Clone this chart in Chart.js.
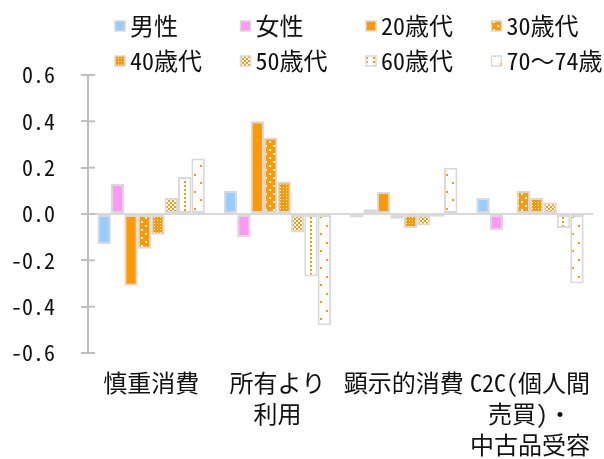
<!DOCTYPE html>
<html>
<head>
<meta charset="utf-8">
<script src="https://cdn.jsdelivr.net/npm/chart.js@4.4.1/dist/chart.umd.min.js"></script>
<style>
  html, body { margin: 0; padding: 0; background: #fff; }
  #wrap { width: 604px; height: 459px; }
</style>
</head>
<body>
<div id="wrap"><canvas id="chart" width="604" height="459"></canvas></div>
<script>
// categories (multi-line ones as arrays)
const categories = ['慎重消費', ['所有より', '利用'], '顕示的消費', ['C2C(個人間', '売買)・', '中古品受容']];
const seriesNames = ['男性', '女性', '20歳代', '30歳代', '40歳代', '50歳代', '60歳代', '70〜74歳'];

// values
const male   = [-0.13, 0.10, -0.015, 0.07];
const female = [0.13, -0.10, 0.02, -0.07];
const age20  = [-0.31, 0.40, 0.095, 0.00];
const age30  = [-0.15, 0.33, -0.02, 0.10];
const age40  = [-0.09, 0.14, -0.06, 0.07];
const age50  = [0.07, -0.08, -0.05, 0.05];
const age60  = [0.16, -0.27, -0.012, -0.06];
const age70  = [0.24, -0.48, 0.20, -0.30];

const yTicks = [-0.6, -0.4, -0.2, 0, 0.2, 0.4, 0.6];

const FONT = "'Noto Sans Mono CJK JP', 'Noto Sans CJK JP', 'Noto Sans', sans-serif";
const ORANGE = '#ff9900';
const EDGE = '#d9d9d9';

const canvas = document.getElementById('chart');
const ctx = canvas.getContext('2d');

function makePattern(w, h, bg, fg, dots) {
  const c = document.createElement('canvas');
  c.width = w; c.height = h;
  const g = c.getContext('2d');
  g.fillStyle = bg;
  g.fillRect(0, 0, w, h);
  g.fillStyle = fg;
  dots.forEach(d => g.fillRect(d[0], d[1], d[2], d[3]));
  return ctx.createPattern(c, 'repeat');
}

const fills = [
  '#99ccff',
  '#ff99f5',
  ORANGE,
  makePattern(8, 8, ORANGE, '#fff', [[1, 1, 2, 2], [5, 5, 2, 2]]),
  makePattern(3, 3, ORANGE, '#fff', [[1, 1, 1, 1]]),
  makePattern(4, 4, '#fff', ORANGE, [[0, 0, 2, 2], [2, 2, 2, 2]]),
  makePattern(7, 4, '#fff', ORANGE, [[2, 1, 2, 2]]),
  makePattern(12, 17, '#fff', ORANGE, [[2, 4, 2, 2], [8, 12, 2, 2]])
];

const values = [male, female, age20, age30, age40, age50, age60, age70];

const datasets = seriesNames.map((name, i) => ({
  label: name,
  data: values[i],
  backgroundColor: fills[i],
  borderColor: EDGE,
  borderWidth: 2,
  borderSkipped: false,
  categoryPercentage: 0.85,
  barPercentage: 1.0
}));

// legend laid out as a 4 x 2 grid
const gridLegend = {
  id: 'gridLegend',
  afterDraw(chart) {
    const c = chart.ctx;
    c.save();
    c.font = '24px ' + FONT;
    c.textBaseline = 'middle';
    c.textAlign = 'left';
    chart.data.datasets.forEach((ds, i) => {
      const col = i % 4, row = Math.floor(i / 4);
      const x = 115 + col * 125.5;
      const y = 26 + row * 35;
      c.fillStyle = ds.backgroundColor;
      c.fillRect(x, y - 5, 10, 10);
      c.strokeStyle = EDGE;
      c.lineWidth = 1.5;
      c.strokeRect(x, y - 5, 10, 10);
      c.fillStyle = '#111';
      c.fillText(ds.label, x + 15, y);
    });
    c.restore();
  }
};

// tick marks crossing the value axis
const crossTicks = {
  id: 'crossTicks',
  afterDraw(chart) {
    const c = chart.ctx, ys = chart.scales.y, left = chart.chartArea.left;
    c.save();
    c.strokeStyle = '#bfbfbf';
    c.lineWidth = 2;
    yTicks.forEach(v => {
      const y = ys.getPixelForValue(v);
      c.beginPath();
      c.moveTo(left, y);
      c.lineTo(left + 7, y);
      c.stroke();
    });
    c.restore();
  }
};

new Chart(canvas, {
  type: 'bar',
  data: { labels: categories, datasets: datasets },
  options: {
    responsive: false,
    animation: false,
    devicePixelRatio: 1,
    layout: { padding: { top: 75, left: 10, right: 0, bottom: 0 } },
    plugins: {
      legend: { display: false },
      tooltip: { enabled: false }
    },
    scales: {
      x: {
        grid: { display: false, drawTicks: false },
        border: { display: false },
        ticks: {
          font: { family: FONT, size: 24, lineHeight: 1.3 },
          color: '#111',
          padding: 14,
          maxRotation: 0,
          autoSkip: false
        },
        afterFit(scale) { scale.height = 106; }
      },
      y: {
        min: -0.6,
        max: 0.6,
        afterBuildTicks(scale) { scale.ticks = yTicks.map(v => ({ value: v })); },
        afterFit(scale) { scale.width = 78; },
        ticks: {
          font: { family: FONT, size: 22 },
          color: '#111',
          padding: 26,
          callback: v => v.toFixed(1)
        },
        grid: {
          color: c => (c.tick && c.tick.value === 0) ? EDGE : 'rgba(0,0,0,0)',
          lineWidth: 2,
          tickColor: '#bfbfbf',
          tickLength: 7,
          tickWidth: 2
        },
        border: { color: '#bfbfbf', width: 2 }
      }
    }
  },
  plugins: [gridLegend, crossTicks]
});
</script>
</body>
</html>
